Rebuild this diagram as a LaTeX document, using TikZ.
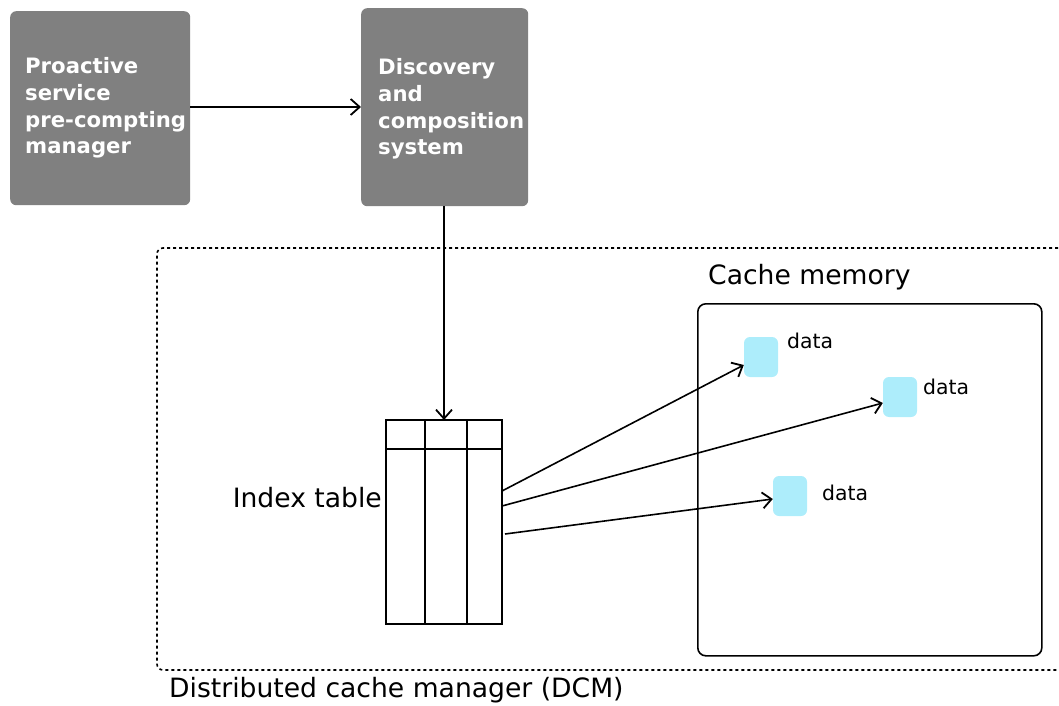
\documentclass[tikz,border=0pt]{standalone}
\usepackage{fontspec}
\setmainfont{DejaVu Sans}
\usetikzlibrary{arrows.meta}
\definecolor{boxgray}{HTML}{808080}
\definecolor{datacyan}{HTML}{ADEDFB}
\tikzset{
  greybox/.style={draw=none,fill=boxgray,rounded corners=6pt,anchor=north west},
  boxtext/.style={text=white,font=\fontsize{21.2}{26.7}\selectfont\bfseries,align=left,anchor=west,inner sep=0pt},
  datasq/.style={fill=datacyan,draw=none,rounded corners=6pt,minimum width=34pt,minimum height=40pt,inner sep=0pt},
  datalbl/.style={font=\fontsize{20.4}{24}\selectfont,anchor=west,inner sep=0pt},
  biglbl/.style={font=\fontsize{26.6}{30}\selectfont,inner sep=0pt},
  conn/.style={line width=1.6pt,-{Straight Barb[length=9pt,width=16pt,line width=1.8pt]}},
}
\begin{document}
\begin{tikzpicture}[x=1pt,y=-1pt]
\useasboundingbox (0,0) rectangle (1059,706);
% top boxes
\node[greybox,minimum width=180pt,minimum height=194pt] (pm) at (10,11) {};
\node[boxtext] (pmt) at (25,108) {Proactive\\service\\pre-compting\\manager};
\node[greybox,minimum width=167pt,minimum height=198pt] (dc) at (361,8) {};
\node[boxtext] (dct) at (378,109) {Discovery\\and\\composition\\system};
% DCM region
\draw[dash pattern=on 3pt off 3pt,line width=1.6pt,rounded corners=6pt] (1070,248) -- (157,248) -- (157,670) -- (1070,670);
\node[biglbl,anchor=west] (dcml) at (169,690) {Distributed cache manager (DCM)};
% cache memory
\node[draw,line width=1.6pt,rounded corners=8pt,minimum width=344pt,minimum height=352pt,anchor=north west] (cm) at (697,303) {};
\node[biglbl,anchor=west] (cml) at (708,277) {Cache memory};
% index table
\node[draw=none,minimum width=116pt,minimum height=204pt,anchor=north west,inner sep=0pt] (it) at (386,420) {};
\draw[line width=1.6pt] (386,420) rectangle (502,624);
\draw[line width=1.6pt] (386,449) -- (502,449);
\draw[line width=1.6pt] (425,420) -- (425,624);
\draw[line width=1.6pt] (467,420) -- (467,624);
\draw[line width=2.6pt] (386,420) -- (386,624) -- (425,624);
\draw[line width=2.6pt] (386,420) -- (425,420);
\node[biglbl,anchor=east] (itl) at (382,498) {Index table};
% data
\node[datasq] (d1) at (761,357) {};
\node[datasq] (d2) at (900,397) {};
\node[datasq] (d3) at (790,496) {};
\node[datalbl] (d1l) at (787,341) {data};
\node[datalbl] (d2l) at (923,387) {data};
\node[datalbl] (d3l) at (822,493) {data};
% connectors
\draw[conn] (pm.east |- 0,107) -- (dc.west |- 0,107);
\draw[conn] (dc.south -| 444,0) -- (it.north -| 444,0);
\coordinate (s1) at (502,491);
\coordinate (s2) at (502,506);
\coordinate (s3) at (505,534);
\draw[conn] (s1) -- (d1.west |- 0,365);
\draw[conn] (s2) -- (d2.west |- 0,403);
\draw[conn] (s3) -- (d3.west |- 0,499);
\end{tikzpicture}
\end{document}
